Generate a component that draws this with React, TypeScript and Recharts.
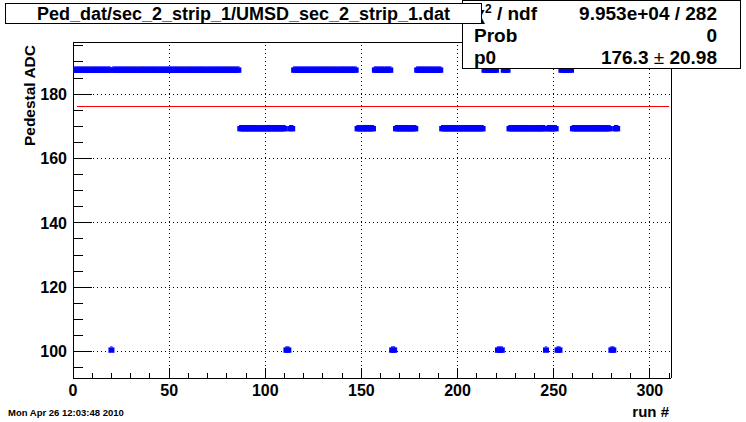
import React from 'react';
import { ComposedChart, Scatter, XAxis, YAxis, ReferenceLine } from 'recharts';

// pedestal per run, runs start at 1
const firstRun = 1;
const pedestal = [
  187.5, 187.5, 187.5, 187.5, 187.5, 187.5, 187.5, 187.5, 187.5, 187.5,
  187.5, 187.5, 187.5, 187.5, 187.5, 187.5, 187.5, 187.5, 187.5, 100.5,
  187.5, 187.5, 187.5, 187.5, 187.5, 187.5, 187.5, 187.5, 187.5, 187.5,
  187.5, 187.5, 187.5, 187.5, 187.5, 187.5, 187.5, 187.5, 187.5, 187.5,
  187.5, 187.5, 187.5, 187.5, 187.5, 187.5, 187.5, 187.5, 187.5, 187.5,
  187.5, 187.5, 187.5, 187.5, 187.5, 187.5, 187.5, 187.5, 187.5, 187.5,
  187.5, 187.5, 187.5, 187.5, 187.5, 187.5, 187.5, 187.5, 187.5, 187.5,
  187.5, 187.5, 187.5, 187.5, 187.5, 187.5, 187.5, 187.5, 187.5, 187.5,
  187.5, 187.5, 187.5, 187.5, 187.5, 187.5, 169.3, 169.3, 169.3, 169.3,
  169.3, 169.3, 169.3, 169.3, 169.3, 169.3, 169.3, 169.3, 169.3, 169.3,
  169.3, 169.3, 169.3, 169.3, 169.3, 169.3, 169.3, 169.3, 169.3, 169.3,
  100.5, 100.5, 169.3, 169.3, 187.5, 187.5, 187.5, 187.5, 187.5, 187.5,
  187.5, 187.5, 187.5, 187.5, 187.5, 187.5, 187.5, 187.5, 187.5, 187.5,
  187.5, 187.5, 187.5, 187.5, 187.5, 187.5, 187.5, 187.5, 187.5, 187.5,
  187.5, 187.5, 187.5, 187.5, 187.5, 187.5, 187.5, 169.3, 169.3, 169.3,
  169.3, 169.3, 169.3, 169.3, 169.3, 169.3, 187.5, 187.5, 187.5, 187.5,
  187.5, 187.5, 187.5, 187.5, 187.5, 100.5, 100.5, 169.3, 169.3, 169.3,
  169.3, 169.3, 169.3, 169.3, 169.3, 169.3, 169.3, 169.3, 187.5, 187.5,
  187.5, 187.5, 187.5, 187.5, 187.5, 187.5, 187.5, 187.5, 187.5, 187.5,
  187.5, 169.3, 169.3, 169.3, 169.3, 169.3, 169.3, 169.3, 169.3, 169.3,
  169.3, 169.3, 169.3, 169.3, 169.3, 169.3, 169.3, 169.3, 169.3, 169.3,
  169.3, 169.3, 169.3, 187.5, 187.5, 187.5, 187.5, 187.5, 187.5, 187.5,
  100.5, 100.5, 100.5, 187.5, 187.5, 187.5, 169.3, 169.3, 169.3, 169.3,
  169.3, 169.3, 169.3, 169.3, 169.3, 169.3, 169.3, 169.3, 169.3, 169.3,
  169.3, 169.3, 169.3, 169.3, 169.3, 100.5, 169.3, 169.3, 169.3, 169.3,
  169.3, 100.5, 100.5, 187.5, 187.5, 187.5, 187.5, 187.5, 187.5, 169.3,
  169.3, 169.3, 169.3, 169.3, 169.3, 169.3, 169.3, 169.3, 169.3, 169.3,
  169.3, 169.3, 169.3, 169.3, 169.3, 169.3, 169.3, 169.3, 169.3, 100.5,
  100.5, 169.3, 169.3,
];

const xMajorTicks = [0, 50, 100, 150, 200, 250, 300];
const xAllTicks = [
  0, 10, 20, 30, 40, 50, 60, 70, 80, 90, 100, 110, 120, 130, 140, 150,
  160, 170, 180, 190, 200, 210, 220, 230, 240, 250, 260, 270, 280, 290, 300, 310,
];
const yMajorTicks = [100, 120, 140, 160, 180];
const yAllTicks = [
  95, 100, 105, 110, 115, 120, 125, 130, 135, 140, 145, 150, 155, 160,
  165, 170, 175, 180, 185, 190, 195,
];

// constant fit result
const fitP0 = 176.3;
const fitP0Err = 20.98;
const chi2 = '9.953e+04';
const ndf = 282;
const prob = 0;
const fitRange = [2, 310];

const title = 'Ped_dat/sec_2_strip_1/UMSD_sec_2_strip_1.dat';
const dateStamp = 'Mon Apr 26 12:03:48 2010';

const xDomain = [0, 311];
const yDomain = [91.8, 196.2];

const font = 'Liberation Sans, Arial, Helvetica, sans-serif';

const points = pedestal.map((adc, i) => ({ run: firstRun + i, adc }));

// square-ish marker like ROOT's small full circle
const Marker = (props: any) => {
  const { cx, cy } = props;
  if (cx == null || cy == null) return null;
  return (
    <g fill="#0000ff">
      <rect x={cx - 3} y={cy - 2.6} width={6} height={5.4} />
      <rect x={cx - 1.2} y={cy - 3.6} width={2.4} height={1} />
    </g>
  );
};

const XTick = (props: any) => {
  const { x, y, payload } = props;
  const major = xMajorTicks.includes(payload.value);
  return (
    <g>
      <line x1={x} x2={x} y1={y} y2={y - (major ? 10 : 5)} stroke="#000" shapeRendering="crispEdges" />
      {major && (
        <text x={x} y={y + 18} textAnchor="middle" fontSize={16} fontWeight="bold" fontFamily={font} fill="#000">
          {payload.value}
        </text>
      )}
    </g>
  );
};

const YTick = (props: any) => {
  const { x, y, payload } = props;
  const major = yMajorTicks.includes(payload.value);
  return (
    <g>
      <line x1={x} x2={x + (major ? 19 : 10)} y1={y} y2={y} stroke="#000" shapeRendering="crispEdges" />
      {major && (
        <text x={x - 6} y={y} dy="0.36em" textAnchor="end" fontSize={16} fontWeight="bold" fontFamily={font} fill="#000">
          {payload.value}
        </text>
      )}
    </g>
  );
};

export default function App() {
  return (
    <div style={{ position: 'absolute', left: 0, top: 0, width: 746, height: 422, background: '#fff' }}>
      <ComposedChart width={746} height={422} margin={{ top: 42, right: 75, bottom: 0, left: 0 }}>
        <XAxis
          type="number"
          dataKey="run"
          domain={xDomain}
          allowDataOverflow
          ticks={xAllTicks}
          interval={0}
          tick={<XTick />}
          tickLine={false}
          tickSize={0}
          tickMargin={0}
          height={44}
          axisLine={{ stroke: '#000', shapeRendering: 'crispEdges' }}
        />
        <YAxis
          type="number"
          dataKey="adc"
          domain={yDomain}
          allowDataOverflow
          ticks={yAllTicks}
          interval={0}
          tick={<YTick />}
          tickLine={false}
          tickSize={0}
          tickMargin={0}
          width={73}
          axisLine={{ stroke: '#000', shapeRendering: 'crispEdges' }}
        />
        {xMajorTicks.slice(1).map((v) => (
          <ReferenceLine key={'gx' + v} x={v} stroke="#000" strokeDasharray="1 3" shapeRendering="crispEdges" />
        ))}
        {yMajorTicks.map((v) => (
          <ReferenceLine key={'gy' + v} y={v} stroke="#000" strokeDasharray="1 3" shapeRendering="crispEdges" />
        ))}
        <ReferenceLine x={xDomain[1]} stroke="#000" shapeRendering="crispEdges" />
        <ReferenceLine y={yDomain[1]} stroke="#000" shapeRendering="crispEdges" />
        <Scatter data={points} dataKey="adc" shape={<Marker />} isAnimationActive={false} />
        <ReferenceLine
          segment={[{ x: fitRange[0], y: fitP0 }, { x: fitRange[1], y: fitP0 }]}
          stroke="#ff0000"
          strokeWidth={1}
          shapeRendering="crispEdges"
        />
      </ComposedChart>
      <svg width={746} height={422} style={{ position: 'absolute', left: 0, top: 0, pointerEvents: 'none' }}>
        <g fontFamily={font} fontWeight="bold" fill="#000">
          <rect x={462.5} y={0.5} width={278} height={68} fill="#fff" stroke="#000" shapeRendering="crispEdges" />
          <text x={474} y={19.5} fontSize={19}>
            χ<tspan fontSize={12} dy={-7}>2</tspan>
            <tspan dy={7}> / ndf</tspan>
          </text>
          <text x={717} y={19.5} fontSize={19} textAnchor="end">{`${chi2} / ${ndf}`}</text>
          <text x={474} y={41.5} fontSize={19}>Prob</text>
          <text x={717} y={41.5} fontSize={19} textAnchor="end">{prob}</text>
          <text x={474} y={63.5} fontSize={19}>p0</text>
          <text x={717} y={63.5} fontSize={19} textAnchor="end">
            {fitP0.toFixed(1)}
            <tspan fontWeight="normal">{' ± '}</tspan>
            {fitP0Err}
          </text>
          <rect x={5.5} y={3.5} width={476} height={20} fill="#fff" stroke="#000" shapeRendering="crispEdges" />
          <text x={243.5} y={20} fontSize={18} textAnchor="middle">{title}</text>
          <text x={35} y={45} fontSize={15.5} textAnchor="end" transform="rotate(-90 35 45)">Pedestal ADC</text>
          <text x={669} y={417} fontSize={15} textAnchor="end">run #</text>
          <text x={8} y={415.5} fontSize={9.5}>{dateStamp}</text>
        </g>
      </svg>
    </div>
  );
}
